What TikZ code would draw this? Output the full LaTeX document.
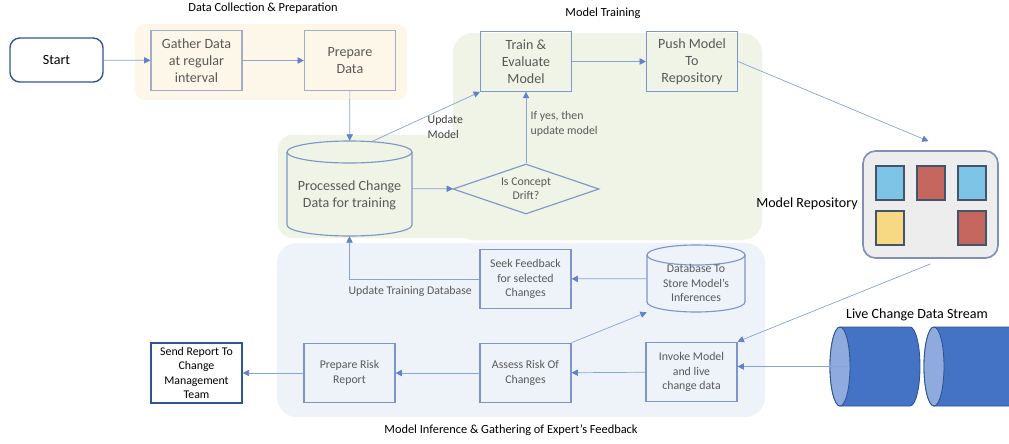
\documentclass[tikz,border=0pt]{standalone}
\usepackage{fontspec}
\setmainfont{Carlito}
\usetikzlibrary{shapes.geometric,arrows.meta,calc}

\definecolor{yelbg}{HTML}{FDF7E9}
\definecolor{grnbg}{HTML}{EFF4E6}
\definecolor{blubg}{HTML}{EEF2F9}
\definecolor{boxline}{HTML}{7D95C8}
\definecolor{paleline}{HTML}{A3AEC6}
\definecolor{darkline}{HTML}{2F5597}
\definecolor{txtgray}{HTML}{595959}
\definecolor{arrline}{HTML}{86A4DA}
\definecolor{arrtip}{HTML}{5F82C8}
\definecolor{repobg}{HTML}{EDEDED}
\definecolor{repoline}{HTML}{8290B8}
\definecolor{tileline}{HTML}{44546A}
\definecolor{tileblue}{HTML}{7DC4E6}
\definecolor{tilered}{HTML}{C5675F}
\definecolor{tileyel}{HTML}{F6D982}
\definecolor{streambody}{HTML}{4472C4}
\definecolor{streamface}{HTML}{8FAADC}
\definecolor{streamline}{HTML}{2F528F}

\newcommand{\boxfont}{\fontsize{10}{12}\selectfont}
\newcommand{\smallfont}{\fontsize{8.4}{10.2}\selectfont}
\newcommand{\titlefont}{\fontsize{8.8}{10.5}\selectfont}

\begin{document}
\begin{tikzpicture}[x=0.025cm, y=-0.025cm,
  box/.style={draw=boxline, line width=0.8pt, minimum width=2.275cm, minimum height=1.49cm, inner sep=0pt, align=center, text=txtgray, font=\boxfont},
  smallbox/.style={box, font=\smallfont},
  flow/.style={draw=arrline, line width=0.5pt, -{Triangle[length=4.5pt,width=4.5pt,color=arrtip]}},
  lbl/.style={text=txtgray, font=\smallfont, align=left, inner sep=1pt},
  title/.style={text=black, font=\titlefont}]
\useasboundingbox (0,0) rectangle (1009,443);

\fill[yelbg, rounded corners=7pt] (135,24) rectangle (407,100);
\fill[grnbg, rounded corners=14pt] (453,33) rectangle (762,240);
\fill[grnbg, rounded corners=10pt] (278,135) rectangle (480,238);
\fill[blubg, rounded corners=14pt] (277,243) rectangle (765,417);

\node (titlecollect) [title] at (263,8) {Data Collection \& Preparation};
\node (titletrain) [title] at (603,13) {Model Training};
\node (titleinfer) [title] at (511,430) {Model Inference \& Gathering of Expert’s Feedback};

\node (start) [draw=darkline, line width=1pt, rounded corners=7pt, minimum width=2.325cm, minimum height=1.1cm, font=\boxfont] at (56.5,60) {Start};
\node (gather) [box, draw=paleline] at (196.5,60.5) {Gather Data\\at regular\\interval};
\node (prepare) [box, draw=paleline] at (350,60.5) {Prepare\\Data};
\node (train) [box] at (526,61.5) {Train \&\\Evaluate\\Model};
\node (push) [box] at (692,61.5) {Push Model\\To\\Repository};

\node (proc) [minimum width=3.125cm, minimum height=2.375cm, inner sep=0pt] at (349.5,188.5) {};
\draw[boxline, line width=0.8pt] (287,152) -- (287,225) arc[start angle=180, end angle=0, x radius=62.5, y radius=11] -- (412,152);
\draw[boxline, line width=0.8pt] (349.5,152) ellipse [x radius=62.5, y radius=11];
\node (proctxt) [text=txtgray, font=\boxfont, align=center] at (349.5,195) {Processed Change\\Data for training};

\node (drift) [diamond, draw=boxline, line width=0.8pt, aspect=2.9, minimum width=3.65cm, minimum height=1.25cm, inner sep=0pt, align=center, text=txtgray, font=\smallfont] at (526,189) {Is Concept\\Drift?};

\node (updmodel) [lbl, anchor=west, text=black!75] at (426,127) {Update\\Model};
\node (ifyes) [lbl, anchor=west] at (529,124) {If yes, then\\update model};

\node (repo) [draw=repoline, fill=repobg, line width=1.2pt, rounded corners=9pt, minimum width=3.375cm, minimum height=2.675cm] at (930.5,204.5) {};
\draw[tileline, fill=tileblue, line width=0.8pt] (876,166) rectangle (904,200);
\draw[tileline, fill=tilered, line width=0.8pt] (917,166) rectangle (945,200);
\draw[tileline, fill=tileblue, line width=0.8pt] (958,166) rectangle (986,200);
\draw[tileline, fill=tileyel, line width=0.8pt] (876,211) rectangle (904,245);
\draw[tileline, fill=tilered, line width=0.8pt] (958,211) rectangle (986,245);
\node (repolbl) [font=\boxfont] at (807,204) {Model Repository};

\node (streamlbl) [font=\boxfont] at (917,315) {Live Change Data Stream};
\draw[streamline, fill=streambody, line width=0.6pt] (840,327) -- (910,327) arc[start angle=270, end angle=450, x radius=10, y radius=39.5] -- (840,406) arc[start angle=90, end angle=270, x radius=10, y radius=39.5] -- cycle;
\draw[streamline, fill=streambody, line width=0.6pt] (934,327) -- (1010,327) arc[start angle=270, end angle=450, x radius=10, y radius=39.5] -- (934,406) arc[start angle=90, end angle=270, x radius=10, y radius=39.5] -- cycle;
\draw[streamline, fill=streamface, line width=0.6pt] (840,366.5) ellipse [x radius=10, y radius=39.5];
\draw[streamline, fill=streamface, line width=0.6pt] (934,366.5) ellipse [x radius=10, y radius=39.5];
\coordinate (streamout) at (848,366.5);

\node (infdb) [minimum width=2.45cm, minimum height=1.675cm, inner sep=0pt] at (696,278.5) {};
\draw[boxline, line width=0.8pt] (647,255) -- (647,302) arc[start angle=180, end angle=0, x radius=49, y radius=10] -- (745,255);
\draw[boxline, line width=0.8pt] (696,255) ellipse [x radius=49, y radius=10];
\node (infdbtxt) [text=txtgray, font=\smallfont, align=center] at (696,283) {Database To\\Store Model’s\\Inferences};

\node (seek) [smallbox] at (525.5,279) {Seek Feedback\\for selected\\Changes};
\node (invoke) [smallbox] at (691.5,372) {Invoke Model\\and live\\change data};
\node (assess) [smallbox] at (525.5,373) {Assess Risk Of\\Changes};
\node (riskrep) [smallbox] at (349.5,373) {Prepare Risk\\Report};
\node (sendrep) [smallbox, draw=darkline, line width=1pt, text=black] at (196.5,373) {Send Report To\\Change\\Management\\Team};

\draw[flow] (start) -- (gather);
\draw[flow] (gather) -- (prepare);
\draw[flow] (prepare) -- (proc);
\draw[flow] (proc) -- (drift);
\draw[flow] (drift) -- (train);
\draw[flow] ($(proc.north)+(22,1)$) -- (train.south west);
\draw[flow] (train) -- (push);
\draw[flow] (push.east) -- ($(repo.north)+(-2,-9)$);
\draw[flow] ($(repo.south)+(0,5)$) -- (invoke.north east);
\draw[flow] (streamout) -- (invoke.east |- streamout);
\draw[flow] (invoke) -- (assess);
\draw[flow] (assess) -- (riskrep);
\draw[flow] (riskrep) -- (sendrep);
\draw[flow] (assess.north east) -- (infdb.south west);
\draw[flow] (infdb) -- (seek);
\draw[flow] (seek.west) -| node[lbl, pos=0.25, below=4pt, xshift=-3pt] (updtrain) {Update Training Database} (proc.south);
\end{tikzpicture}
\end{document}
